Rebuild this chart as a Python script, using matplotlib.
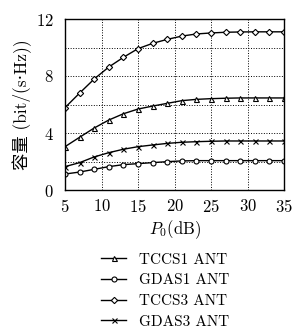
import matplotlib
matplotlib.use("Agg")
import matplotlib.pyplot as plt
from matplotlib.ticker import MultipleLocator

plt.rcParams['font.family'] = ['cmr10', 'DejaVu Serif', 'Noto Sans CJK SC']
plt.rcParams['mathtext.fontset'] = 'cm'
plt.rcParams['axes.formatter.use_mathtext'] = True
plt.rcParams['font.size'] = 11.5

p0 = [5, 7, 9, 11, 13, 15, 17, 19, 21, 23, 25, 27, 29, 31, 33, 35]
tccs1 = [3.04, 3.70, 4.35, 4.91, 5.35, 5.68, 5.89, 6.08, 6.27, 6.36, 6.41, 6.44, 6.46, 6.46, 6.46, 6.46]
gdas1 = [1.12, 1.26, 1.45, 1.64, 1.78, 1.85, 1.92, 1.99, 2.04, 2.06, 2.06, 2.06, 2.06, 2.06, 2.06, 2.06]
tccs3 = [5.78, 6.80, 7.79, 8.63, 9.31, 9.92, 10.29, 10.57, 10.80, 10.95, 11.02, 11.07, 11.09, 11.10, 11.10, 11.10]
gdas3 = [1.64, 1.92, 2.32, 2.62, 2.86, 3.04, 3.16, 3.27, 3.35, 3.39, 3.42, 3.44, 3.44, 3.44, 3.44, 3.44]
labels = ['TCCS1 ANT', 'GDAS1 ANT', 'TCCS3 ANT', 'GDAS3 ANT']

fig = plt.figure(figsize=(2.94, 3.34), dpi=100)
ax = fig.add_axes([65/294, 1-190/334, 219/294, 171/334])

series = [(tccs1, '^'), (gdas1, 'o'), (tccs3, 'D'), (gdas3, 'x')]
for (vals, m), lab in zip(series, labels):
    ms = 3.2 if m == 'D' else 3.6
    ax.plot(p0, vals, color='black', lw=1.0, marker=m, ms=ms, mfc='white',
            mec='black', mew=0.8, label=lab)

ax.set_xlim(5, 35)
ax.set_ylim(0, 12)
ax.set_xticks([5, 10, 15, 20, 25, 30, 35])
ax.set_yticks([0, 4, 8, 12])
ax.yaxis.set_minor_locator(MultipleLocator(2))
ax.grid(True, which='major', axis='x', color='black', ls=':', lw=0.7)
ax.grid(True, which='both', axis='y', color='black', ls=':', lw=0.7)
ax.tick_params(which='both', direction='in', length=0, labelsize=12)
ax.tick_params(axis='x', pad=6)
ax.tick_params(axis='y', pad=8)
for s in ax.spines.values():
    s.set_linewidth(1.0)
ax.set_xlabel('$P_0$(dB)', labelpad=2, fontsize=12)
ax.set_ylabel('容量 (bit/(s·Hz))', labelpad=3, fontsize=12.5)

handles, labs = ax.get_legend_handles_labels()
fig.legend(handles, labs, loc='upper left', bbox_to_anchor=(101/294, 1-253/334),
           frameon=False, handlelength=1.65, handletextpad=0.85, labelspacing=0.45,
           borderpad=0, borderaxespad=0, fontsize=11)

fig.savefig('out.png', dpi=100)
